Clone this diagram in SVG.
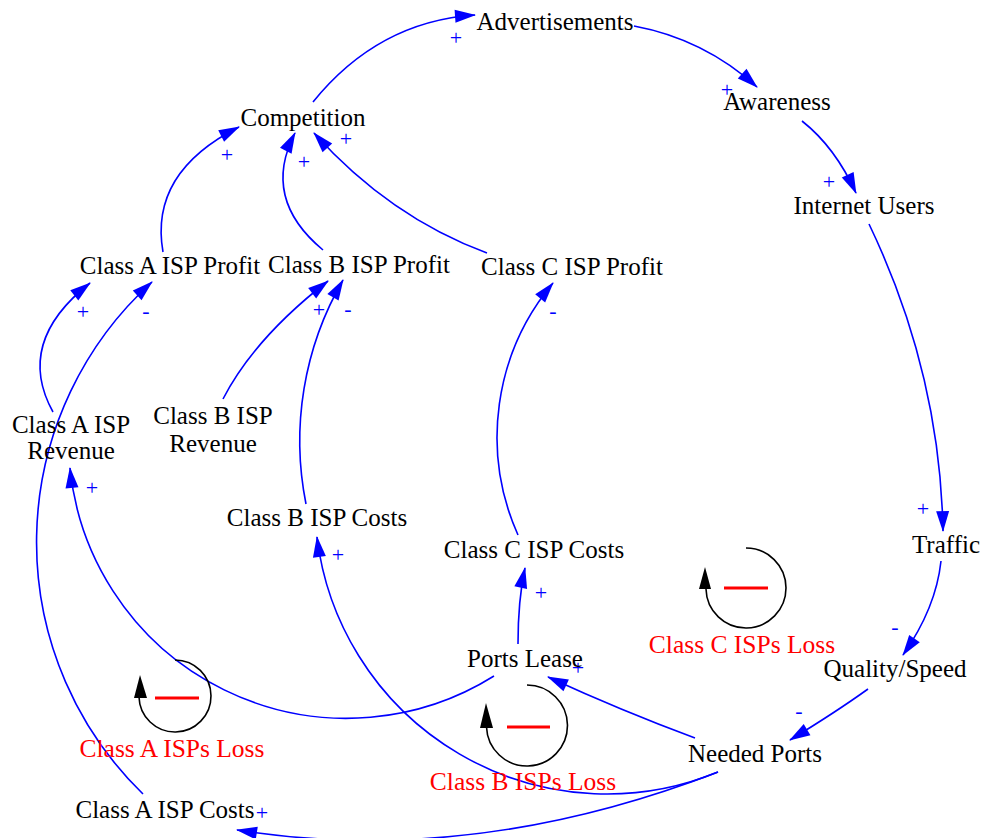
<svg xmlns="http://www.w3.org/2000/svg" width="987" height="838" viewBox="0 0 987 838">
<defs>
<marker id="ah" markerUnits="userSpaceOnUse" markerWidth="22" markerHeight="14" refX="20" refY="6.5" orient="auto" overflow="visible">
<path d="M0,0 L21,6.5 L0,13 Z" fill="#0000ff"/>
</marker>
<style>
.node text{font-family:"Liberation Serif","Times New Roman",serif;font-size:25px;fill:#000;text-anchor:middle}
.loop text{font-family:"Liberation Serif","Times New Roman",serif;font-size:25.5px;fill:#ff0000;text-anchor:middle}
.link{fill:none;stroke:#0000ff;stroke-width:1.6;marker-end:url(#ah)}
.pol{font-family:"Liberation Serif","Times New Roman",serif;font-size:22px;fill:#0000ff;text-anchor:middle}
.lc{fill:none;stroke:#000;stroke-width:1.6}
.la{fill:#000}
.ld{stroke:#ff0000;stroke-width:3}
</style>
</defs>
<rect width="987" height="838" fill="#fff"/>
<g id="connectors">
<path class="link" d="M313,102 Q378,21.5 475,15"/>
<path class="link" d="M634,26 Q704,39 757,87"/>
<path class="link" d="M802,121 Q835,147 856,193"/>
<path class="link" d="M869,224 Q940,372 943,531"/>
<path class="link" d="M941,561 Q936,608 903,655"/>
<path class="link" d="M868,689 Q836,712 790,740"/>
<path class="link" d="M695,738 Q622,711 548,677"/>
<path class="link" d="M718,772 Q472,867 237,830"/>
<path class="link" d="M718,772 A292,292 0 0 1 317,537"/>
<path class="link" d="M494,676 A278,278 0 0 1 70,468"/>
<path class="link" d="M518,644 Q518,600 525,568"/>
<path class="link" d="M518,535 A240,240 0 0 1 553,283"/>
<path class="link" d="M306,504 A321,321 0 0 1 343,280"/>
<path class="link" d="M223,399 Q254.5,338 328,281"/>
<path class="link" d="M53,412 Q14.5,342.5 90,283"/>
<path class="link" d="M143,794 A351,351 0 0 1 152,282"/>
<path class="link" d="M163,252 Q149,172.5 239,127"/>
<path class="link" d="M323,250 Q261,198.5 295,133"/>
<path class="link" d="M487,253 Q389.5,217 314,133"/>
<g id="polarities">
<text class="pol" x="456" y="45">+</text>
<text class="pol" x="727" y="97">+</text>
<text class="pol" x="829" y="189">+</text>
<text class="pol" x="923" y="516">+</text>
<text class="pol" x="895" y="634">-</text>
<text class="pol" x="799" y="718">-</text>
<text class="pol" x="578" y="675">+</text>
<text class="pol" x="262" y="820">+</text>
<text class="pol" x="338" y="562">+</text>
<text class="pol" x="92" y="495">+</text>
<text class="pol" x="541" y="600">+</text>
<text class="pol" x="553" y="318">-</text>
<text class="pol" x="348" y="316">-</text>
<text class="pol" x="319" y="317">+</text>
<text class="pol" x="83" y="319">+</text>
<text class="pol" x="146" y="318">-</text>
<text class="pol" x="227" y="162">+</text>
<text class="pol" x="304" y="169">+</text>
<text class="pol" x="346" y="146">+</text>
</g>
</g>
<g id="n-advertisements" class="node"><text x="555" y="30">Advertisements</text></g>
<g id="n-competition" class="node"><text x="303" y="126">Competition</text></g>
<g id="n-awareness" class="node"><text x="777" y="110">Awareness</text></g>
<g id="n-internet-users" class="node"><text x="864" y="214">Internet Users</text></g>
<g id="n-class-a-profit" class="node"><text x="170" y="274">Class A ISP Profit</text></g>
<g id="n-class-b-profit" class="node"><text x="359" y="273">Class B ISP Profit</text></g>
<g id="n-class-c-profit" class="node"><text x="572" y="275">Class C ISP Profit</text></g>
<g id="n-class-a-revenue" class="node"><text x="71" y="433">Class A ISP</text><text x="71" y="459">Revenue</text></g>
<g id="n-class-b-revenue" class="node"><text x="213" y="424">Class B ISP</text><text x="213" y="452">Revenue</text></g>
<g id="n-class-b-costs" class="node"><text x="317" y="526">Class B ISP Costs</text></g>
<g id="n-class-c-costs" class="node"><text x="534" y="558">Class C ISP Costs</text></g>
<g id="n-traffic" class="node"><text x="946" y="553">Traffic</text></g>
<g id="n-quality-speed" class="node"><text x="895" y="677">Quality/Speed</text></g>
<g id="n-ports-lease" class="node"><text x="525" y="667">Ports Lease</text></g>
<g id="n-needed-ports" class="node"><text x="755" y="762">Needed Ports</text></g>
<g id="n-class-a-costs" class="node"><text x="165" y="818">Class A ISP Costs</text></g>
<g id="loop-a" class="loop">
<path class="lc" d="M175,660 A36,36 0 1 1 139,697"/>
<polygon class="la" points="140,675 134,698 147,698"/>
<line class="ld" x1="155" y1="698" x2="199" y2="698"/>
<text x="172" y="757">Class A ISPs Loss</text>
</g>
<g id="loop-b" class="loop">
<path class="lc" d="M527,685 A40.5,40.5 0 1 1 486.5,727"/>
<polygon class="la" points="486,703 480,728 493,728"/>
<line class="ld" x1="507" y1="727" x2="550" y2="727"/>
<text x="523" y="790">Class B ISPs Loss</text>
</g>
<g id="loop-c" class="loop">
<path class="lc" d="M746,548 A40,40 0 1 1 706,589"/>
<polygon class="la" points="705,567 699,589 711,589"/>
<line class="ld" x1="724" y1="588" x2="768" y2="588"/>
<text x="742" y="653">Class C ISPs Loss</text>
</g>
</svg>
